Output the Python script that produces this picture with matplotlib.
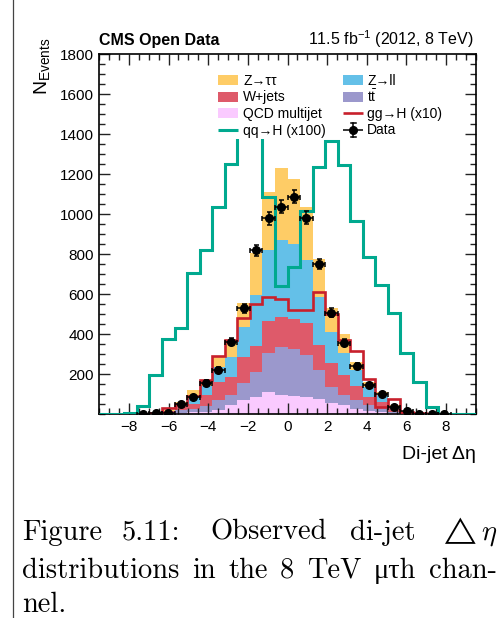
import numpy as np
import matplotlib
matplotlib.use("Agg")
import matplotlib.pyplot as plt
import matplotlib.patches as mpatches
from matplotlib.lines import Line2D
from matplotlib.ticker import MultipleLocator

plt.rcParams['mathtext.fontset'] = 'custom'
plt.rcParams['mathtext.rm'] = 'Liberation Sans'
plt.rcParams['mathtext.it'] = 'Liberation Sans:italic'
plt.rcParams['mathtext.bf'] = 'Liberation Sans:bold'
plt.rcParams['font.family'] = ['Liberation Sans', 'DejaVu Sans']

# ---------------- data (30 bins from -9.5 to 9.5) ----------------
bin_low, bin_high, n_bins = -9.5, 9.5, 30

qcd = [0, 0, 0, 0.5, 1, 2, 6, 10, 12, 22, 45, 70, 87, 112, 95, 90, 87, 73, 53, 45,
       25, 15, 12, 5, 1, 0.5, 0, 0, 0, 0]
ttbar = [0, 0, 0, 0.5, 1, 4, 12, 15, 28, 46, 50, 87, 125, 195, 238, 233, 208, 147, 80, 50,
         45, 30, 23, 7, 3, 0.5, 1, 0.5, 0, 0]
wjets = [0, 0, 1, 1, 2, 8, 20, 27, 55, 92, 88, 126, 128, 160, 150, 154, 158, 125, 124, 100,
         70, 42, 27, 13, 4, 2, 1, 0.5, 1, 0]
zll = [0, 0, 0, 0, 1, 2, 17, 36, 45, 75, 104, 150, 255, 353, 387, 373, 317, 238, 153, 110,
       80, 48, 33, 13, 4, 1, 1, 1, 0, 0]
ztt = [0, 0, 0, 0, 0, 2, 7, 32, 32, 50, 78, 120, 208, 292, 358, 323, 267, 192, 118, 95,
       42, 25, 13, 7, 3, 1, 0, 0, 0, 0]
ggH_x10 = [0, 0, 1, 2, 7, 28, 50, 88, 170, 290, 372, 478, 550, 587, 575, 521, 519, 612, 500, 368,
           315, 176, 33, 73, 12, 5, 2, 2, 1, 0]
qqH_x100 = [0, 0, 4, 38, 195, 373, 428, 703, 821, 1036, 1250, 1500, 1420, 1083, 641, 736, 1016, 1233, 1366, 1246,
            966, 783, 645, 503, 305, 160, 33, 0, 0, 0]
nan = np.nan
data_counts = [nan, nan, nan, 2, 6, 6, 50, 86, 157, 220, 362, 528, 818, 978, 1037, 1087, 982, 750, 507, 357,
               240, 145, 98, 35, 15, 2, 1, 1, nan, nan]

xtick_vals = [-8, -6, -4, -2, 0, 2, 4, 6, 8]
xtick_labels = ['\u22128', '\u22126', '\u22124', '\u22122', '0', '2', '4', '6', '8']
ytick_vals = [200, 400, 600, 800, 1000, 1200, 1400, 1600, 1800]
ytick_labels = ['200', '400', '600', '800', '1000', '1200', '1400', '1600', '1800']

legend_labels = ['Z\u2192\u03c4\u03c4', 'Z\u2192ll', 'W+jets', r'$\mathrm{t}\bar{\mathrm{t}}$',
                 'QCD multijet', 'gg\u2192H (x10)', 'qq\u2192H (x100)', 'Data']

caption_line1 = ['Figure', '5.11:', 'Observed', 'di-jet', r'$\triangle\eta$']
caption_line2 = ['distributions', 'in', 'the', '8', 'TeV', '\u03bc\u03c4h', 'chan-']
caption_line3 = 'nel.'

# ---------------- style ----------------
c_ztt = '#FECC66'
c_zll = '#64C0E8'
c_w = '#DE5A6A'
c_tt = '#9B98CC'
c_qcd = '#FACAFF'
c_ggh = '#C8202C'
c_qqh = '#00A98F'

W, H = 500, 618
AX_L, AX_R, AX_T, AX_B = 99.2, 475.8, 54.0, 414.0
AX_W, AX_H = AX_R - AX_L, AX_B - AX_T
fig = plt.figure(figsize=(W / 100, H / 100), dpi=100)
ax = fig.add_axes([AX_L / W, (H - AX_B) / H, AX_W / W, AX_H / H])

edges = np.linspace(bin_low, bin_high, n_bins + 1)
centers = 0.5 * (edges[1:] + edges[:-1])
halfw = 0.5 * (edges[1] - edges[0])

bottom = np.zeros(n_bins)
for vals, col in [(qcd, c_qcd), (ttbar, c_tt), (wjets, c_w), (zll, c_zll), (ztt, c_ztt)]:
    top = bottom + np.asarray(vals, float)
    ax.stairs(top, edges, baseline=bottom, fill=True, color=col, lw=0, zorder=1)
    bottom = top

ax.stairs(np.asarray(ggH_x10, float), edges, color=c_ggh, lw=1.9, zorder=3)
ax.stairs(np.asarray(qqH_x100, float), edges, color=c_qqh, lw=2.2, zorder=3)

d = np.asarray(data_counts, float)
m = ~np.isnan(d)
ax.errorbar(centers[m], d[m], xerr=halfw, yerr=np.sqrt(d[m]), fmt='o', color='black',
            ms=5.5, elinewidth=1.1, capsize=1.8, capthick=1.1, zorder=5)

ax.set_xlim(bin_low, bin_high)
ax.set_ylim(0, 1800)
ax.set_xticks(xtick_vals)
ax.set_xticklabels(xtick_labels)
ax.set_yticks(ytick_vals)
ax.set_yticklabels(ytick_labels)
ax.xaxis.set_minor_locator(MultipleLocator(0.5))
ax.yaxis.set_minor_locator(MultipleLocator(50))
ax.tick_params(which='both', direction='in', top=True, right=True, labelsize=11, color='#222222')
ax.tick_params(which='major', length=8, width=1.0, pad=4)
ax.tick_params(which='minor', length=4, width=1.0)
for s in ax.spines.values():
    s.set_linewidth(1.2)

# ---------------- legend (drawn by hand, ROOT-like, white box) ----------------
def axp(px, py):
    return ((px - AX_L) / AX_W, (AX_B - py) / AX_H)

tA = ax.transAxes
x0, y0 = axp(213, 139)
x1, y1 = axp(451, 66)
ax.add_patch(mpatches.Rectangle((x0, y0), x1 - x0, y1 - y0, transform=tA, facecolor='white',
                                edgecolor='none', zorder=8, clip_on=False))
rows = [80, 96.5, 113, 129.5]
cols = [(218, 238, 243), (343, 363, 367)]

def swatch(col, row, color):
    sx0, sx1, _ = cols[col]
    a = axp(sx0, rows[row] + 5)
    b = axp(sx1, rows[row] - 5)
    ax.add_patch(mpatches.Rectangle(a, b[0] - a[0], b[1] - a[1], transform=tA, facecolor=color,
                                    edgecolor='none', zorder=9, clip_on=False))

def hline(col, row, color, lw):
    sx0, sx1, _ = cols[col]
    a = axp(sx0, rows[row])
    b = axp(sx1, rows[row])
    ax.add_line(Line2D([a[0], b[0]], [a[1], b[1]], transform=tA, color=color, lw=lw,
                       zorder=9, clip_on=False, solid_capstyle='butt'))

def label(col, row, s):
    _, _, tx = cols[col]
    p = axp(tx, rows[row] + 5)
    ax.text(p[0], p[1], s, transform=tA, ha='left', va='baseline', fontsize=10, zorder=10)

swatch(0, 0, c_ztt); label(0, 0, legend_labels[0])
swatch(1, 0, c_zll); label(1, 0, legend_labels[1])
swatch(0, 1, c_w); label(0, 1, legend_labels[2])
swatch(1, 1, c_tt); label(1, 1, legend_labels[3])
swatch(0, 2, c_qcd); label(0, 2, legend_labels[4])
hline(1, 2, c_ggh, 1.9); label(1, 2, legend_labels[5])
hline(0, 3, c_qqh, 2.2); label(0, 3, legend_labels[6])
hline(1, 3, 'black', 1.1); label(1, 3, legend_labels[7])
mc = axp(353, rows[3])
vt = axp(353, rows[3] - 7)
vb = axp(353, rows[3] + 7)
ax.add_line(Line2D([vt[0], vb[0]], [vt[1], vb[1]], transform=tA, color='black', lw=1.1,
                   zorder=9, clip_on=False))
for yy in (rows[3] - 7, rows[3] + 7):
    ca = axp(350.5, yy)
    cb = axp(355.5, yy)
    ax.add_line(Line2D([ca[0], cb[0]], [ca[1], cb[1]], transform=tA, color='black', lw=1.1,
                       zorder=9, clip_on=False))
ax.add_line(Line2D([mc[0]], [mc[1]], transform=tA, color='black', marker='o', ms=5.5,
                   ls='none', zorder=10, clip_on=False))

# ---------------- titles ----------------
ax.text(0.0, 1.025, 'CMS Open Data', transform=ax.transAxes, ha='left', va='baseline',
        fontsize=11.5, fontweight='bold')
ax.text(0.993, 1.025, r'11.5 fb$^{-1}$ (2012, 8 TeV)', transform=ax.transAxes, ha='right',
        va='baseline', fontsize=11.5)
ax.text(1.0, -0.125, 'Di-jet \u0394\u03b7', transform=ax.transAxes, ha='right', va='baseline',
        fontsize=14)
fig.text(42 / W, 1 - 38 / H, r'N$_{\mathrm{Events}}$', rotation=90, ha='center', va='top',
         fontsize=14)

# left page border
fig.add_artist(Line2D([12.5 / W, 12.5 / W], [0, 1], transform=fig.transFigure,
                      color='#444444', lw=0.9))

# ---------------- caption (justified like the LaTeX page) ----------------
cap_font = ['cmr10', 'Liberation Serif']
cs = 20.5

def ftxt(xp, yp, s, **kw):
    return fig.text(xp / W, 1 - yp / H, s, ha='left', va='baseline', fontsize=cs,
                    family=cap_font, **kw)

renderer = fig.canvas.get_renderer()

line1_x = [22, 122, 210, 350]
for xp, w in zip(line1_x, caption_line1[:-1]):
    ftxt(xp, 540, w)
# last word of line 1: keep it just inside the right edge
t_last = ftxt(443, 540, caption_line1[-1], math_fontfamily='cm')
ext = t_last.get_window_extent(renderer)
if ext.x1 > 498:
    t_last.set_x((443 - (ext.x1 - 498)) / W)

# line 2: distribute the words between x=22 and x=497
words2 = [ftxt(22, 578, w) for w in caption_line2]
widths = [t.get_window_extent(renderer).width for t in words2]
gap = (497 - 22 - sum(widths)) / (len(widths) - 1)
xp = 22.0
for t, wd in zip(words2, widths):
    t.set_x(xp / W)
    xp += wd + gap

ftxt(22, 612, caption_line3)

fig.savefig('out.png', dpi=100)
